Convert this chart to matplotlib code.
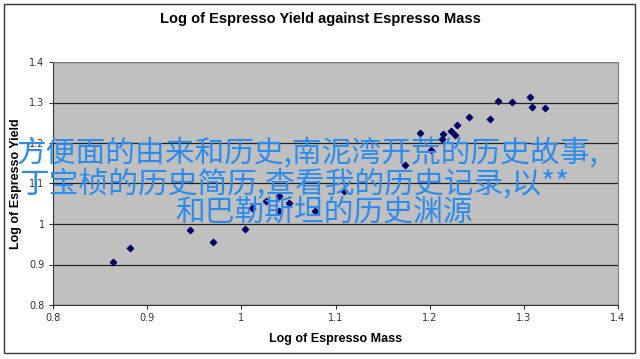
import matplotlib
matplotlib.use('Agg')
import matplotlib.pyplot as plt
from matplotlib.patches import Rectangle

# log mass vs log yield
log_mass = [0.864, 0.882, 0.945, 0.970, 1.004, 1.011, 1.026, 1.040, 1.040,
            1.051, 1.078, 1.109, 1.174, 1.190, 1.201, 1.213, 1.214, 1.223,
            1.227, 1.229, 1.242, 1.264, 1.273, 1.287, 1.307, 1.309, 1.323]
log_yield = [0.906, 0.941, 0.985, 0.955, 0.988, 1.039, 1.057, 1.069, 1.033,
             1.051, 1.032, 1.081, 1.145, 1.225, 1.183, 1.209, 1.222, 1.230,
             1.220, 1.244, 1.265, 1.259, 1.304, 1.302, 1.313, 1.288, 1.286]
ticks = [0.8, 0.9, 1.0, 1.1, 1.2, 1.3, 1.4]
tick_labels = ['0.8', '0.9', '1', '1.1', '1.2', '1.3', '1.4']

watermark = ['方便面的由来和历史,南泥湾开荒的历史故事,',
             '丁宝桢的历史简历,查看我的历史记录,以**',
             '和巴勒斯坦的历史渊源']

W, H = 640, 359
fig = plt.figure(figsize=(W / 100, H / 100), dpi=100)
fig.patch.set_facecolor('white')

# outer chart frame
fig.patches.append(Rectangle((4 / W, 1 - 353 / H), 631 / W, 349 / H,
                             transform=fig.transFigure, fill=False,
                             edgecolor='#333333', lw=1.0))

ax = fig.add_axes([53 / W, 1 - 305 / H, 565 / W, 243 / H])
ax.set_facecolor('#c0c0c0')
ax.scatter(log_mass, log_yield, marker='D', s=10, color='#000066', zorder=3)

ax.set_xlim(0.8, 1.4)
ax.set_ylim(0.8, 1.4)
ax.set_xticks(ticks)
ax.set_xticklabels(tick_labels)
ax.set_yticks(ticks)
ax.set_yticklabels(tick_labels)
ax.tick_params(labelsize=7, colors='#333333', length=3, width=0.8, pad=3)
ax.yaxis.grid(True, color='#222222', lw=0.9)
ax.set_axisbelow(True)
for s in ['top', 'right']:
    ax.spines[s].set_color('#808080')
for s in ['left', 'bottom']:
    ax.spines[s].set_color('#333333')

ax.set_xlabel('Log of Espresso Mass', fontsize=9, fontweight='bold',
              family='Liberation Sans', labelpad=7)
ax.set_ylabel('Log of Espresso Yield', fontsize=9, fontweight='bold',
              family='Liberation Sans', labelpad=5)
fig.text(320 / W, 1 - 19 / H, 'Log of Espresso Yield against Espresso Mass',
         ha='center', va='center', fontsize=10.5, fontweight='bold',
         family='Liberation Sans')

# blue watermark on top
cjk = ['Noto Sans CJK SC', 'DejaVu Sans']
pos = [(17, 154), (19, 185), (175, 212)]
for txt, (x, y) in zip(watermark, pos):
    fig.text(x / W, 1 - y / H, txt, ha='left', va='center', fontsize=21.4,
             color='#2d8ceb', family=cjk, zorder=10)

fig.savefig('out.png', dpi=100)
